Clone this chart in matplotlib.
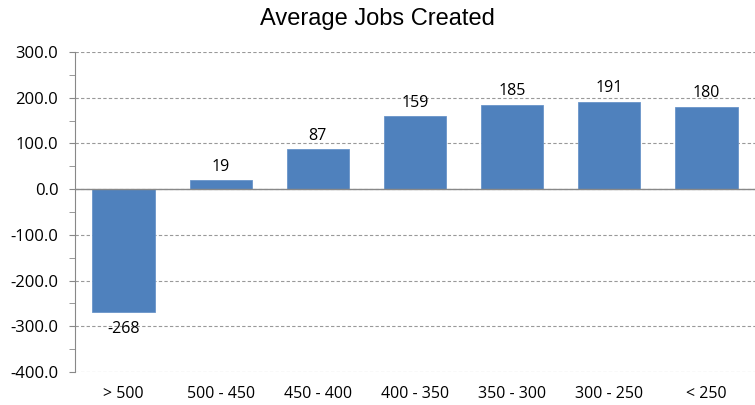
import numpy as np
import matplotlib.pyplot as plt

categories = ['> 500', '500 - 450', '450 - 400', '400 - 350', '350 - 300', '300 - 250', '< 250']
jobs = [-268, 19, 87, 159, 185, 191, 180]
yticks = [300, 200, 100, 0, -100, -200, -300, -400]

plt.rcParams['font.family'] = ['Open Sans', 'DejaVu Sans']

fig = plt.figure(figsize=(7.55, 4.05), dpi=100)
ax = fig.add_axes([75 / 755, 1 - 372 / 405, 1 - 75 / 755, 320 / 405])

x = np.arange(len(categories))
ax.bar(x, jobs, width=0.64, color='#4F81BD', edgecolor='#6A95C9', linewidth=0.6, zorder=3)

# etiquetas de datos: arriba si positivo, abajo si negativo
for xi, v in zip(x, jobs):
    if v >= 0:
        ax.text(xi, v + 12, str(v), ha='center', va='bottom', fontsize=11.5, color='black')
    else:
        ax.text(xi, v - 20, str(v), ha='center', va='top', fontsize=11.5, color='black')

ax.set_xlim(-0.5, len(categories) - 0.5)
ax.set_ylim(-400, 300)
ax.set_yticks(yticks)
ax.set_yticklabels([f'{t:.1f}' for t in yticks], fontsize=12)
ax.set_yticks(np.arange(-350, 300, 100), minor=True)
ax.set_xticks(x)
ax.set_xticklabels(categories, fontsize=11.5)
ax.tick_params(axis='x', length=0, pad=10)
ax.tick_params(axis='y', which='both', length=4, color='#888888', direction='out', pad=8)

ax.grid(axis='y', which='major', linestyle=(0, (3, 2)), color='#999999', linewidth=0.8, zorder=0)
ax.axhline(0, color='#888888', linewidth=1.0, zorder=4)

for s in ['top', 'right', 'bottom']:
    ax.spines[s].set_visible(False)
ax.spines['left'].set_color('#888888')

fig.text(0.5, 1 - 19 / 405, 'Average Jobs Created', ha='center', va='center',
         fontsize=17, family=['Liberation Sans', 'DejaVu Sans'])

fig.savefig('out.png', dpi=100)
